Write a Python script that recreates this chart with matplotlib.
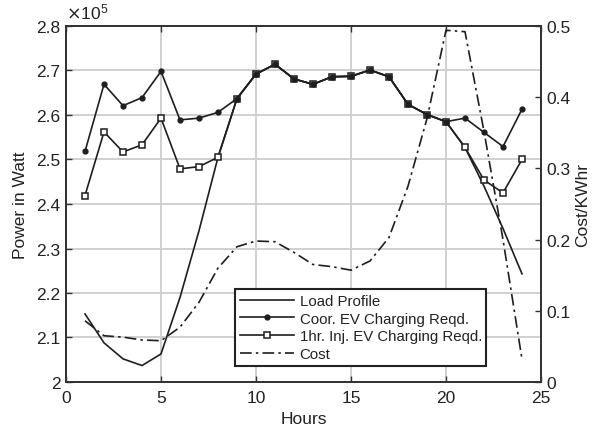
import numpy as np
import matplotlib
matplotlib.use("Agg")
import matplotlib.pyplot as plt
from matplotlib.ticker import FuncFormatter

plt.rcParams['font.family'] = ['Liberation Sans', 'DejaVu Sans']

# Hourly data (power in units of 1e5 W, cost per kWh)
hours = list(range(1, 25))
load_profile = [2.153, 2.088, 2.052, 2.037, 2.063, 2.190, 2.340, 2.505,
                2.637, 2.692, 2.714, 2.681, 2.669, 2.686, 2.687, 2.701,
                2.686, 2.624, 2.601, 2.585, 2.527, 2.440, 2.345, 2.243]
coor_ev = [2.518, 2.669, 2.621, 2.639, 2.698, 2.589, 2.593, 2.606,
           2.637, 2.692, 2.714, 2.681, 2.669, 2.686, 2.687, 2.701,
           2.686, 2.624, 2.601, 2.585, 2.593, 2.561, 2.529, 2.613]
inj_ev = [2.419, 2.562, 2.517, 2.533, 2.593, 2.479, 2.484, 2.505,
          2.637, 2.692, 2.714, 2.681, 2.669, 2.686, 2.687, 2.701,
          2.686, 2.624, 2.601, 2.585, 2.527, 2.454, 2.425, 2.500]
cost = [0.086, 0.065, 0.063, 0.059, 0.058, 0.077, 0.112, 0.160,
        0.190, 0.198, 0.197, 0.182, 0.165, 0.162, 0.157, 0.170,
        0.203, 0.275, 0.370, 0.494, 0.492, 0.352, 0.200, 0.032]

x_ticks = [0, 5, 10, 15, 20, 25]
power_ticks = [2.0, 2.1, 2.2, 2.3, 2.4, 2.5, 2.6, 2.7, 2.8]
cost_ticks = [0, 0.1, 0.2, 0.3, 0.4, 0.5]

line_c = '#1e1e1e'
spine_c = '#333333'
fs = 12.5

fig = plt.figure(figsize=(5.94, 4.35), dpi=100)
ax = fig.add_axes([66 / 594, 1 - 383 / 435, 475 / 594, 356 / 435])
ax2 = ax.twinx()

ax.set_xlim(0, 25)
ax.set_ylim(2.0, 2.8)
ax.set_xticks(x_ticks)
ax.set_yticks(power_ticks)
fmt = FuncFormatter(lambda v, p: '%g' % round(v, 3))
ax.xaxis.set_major_formatter(fmt)
ax.yaxis.set_major_formatter(fmt)
ax.grid(True, color='#cdcdcd', linewidth=1.3)
ax.set_axisbelow(True)

l1, = ax.plot(hours, load_profile, color=line_c, lw=1.2, zorder=3)
l3, = ax.plot(hours, inj_ev, color=line_c, lw=1.2, marker='s', ms=5,
              mfc='white', mec=line_c, mew=1.1, zorder=4)
l2, = ax.plot(hours, coor_ev, color=line_c, lw=1.2, marker='o', ms=3.5,
              mfc=line_c, mec=line_c, zorder=5)

ax2.set_ylim(0, 0.5)
ax2.set_yticks(cost_ticks)
ax2.yaxis.set_major_formatter(fmt)
l4, = ax2.plot(hours, cost, color=line_c, lw=1.2,
               linestyle=(0, (7, 2.5, 1.5, 2.5)))

for a in (ax, ax2):
    for s in a.spines.values():
        s.set_color(spine_c)
        s.set_linewidth(1.3)
    a.tick_params(direction='in', length=4, width=1, colors=spine_c,
                  labelcolor='#222222', labelsize=fs)
ax.tick_params(axis='x', pad=6, top=True)
ax.tick_params(axis='y', pad=4)
ax2.tick_params(axis='y', pad=4)

ax.set_xlabel('Hours', fontsize=fs, color='#222222', labelpad=4)
ax.set_ylabel('Power in Watt', fontsize=fs, color='#222222', labelpad=6)
ax2.set_ylabel('Cost/KWhr', fontsize=fs, color='#222222', labelpad=3,
               rotation=90)
ax.text(0.0, 1.012, r'$\times\mathregular{10^5}$', transform=ax.transAxes,
        fontsize=fs, color='#222222', ha='left', va='bottom')

leg = ax2.legend([l1, l2, l3, l4],
                 ['Load Profile', 'Coor. EV Charging Reqd.',
                  '1hr. Inj. EV Charging Reqd.', 'Cost'],
                 loc='lower left', bbox_to_anchor=(0.356, 0.046),
                 borderaxespad=0, fontsize=10.8, fancybox=False,
                 framealpha=1, edgecolor='#222222', handlelength=3.6,
                 handletextpad=0.4, labelspacing=0.25, borderpad=0.3)
leg.get_frame().set_linewidth(1.5)
for t in leg.get_texts():
    t.set_color('#222222')

fig.savefig('out.png', dpi=100)
